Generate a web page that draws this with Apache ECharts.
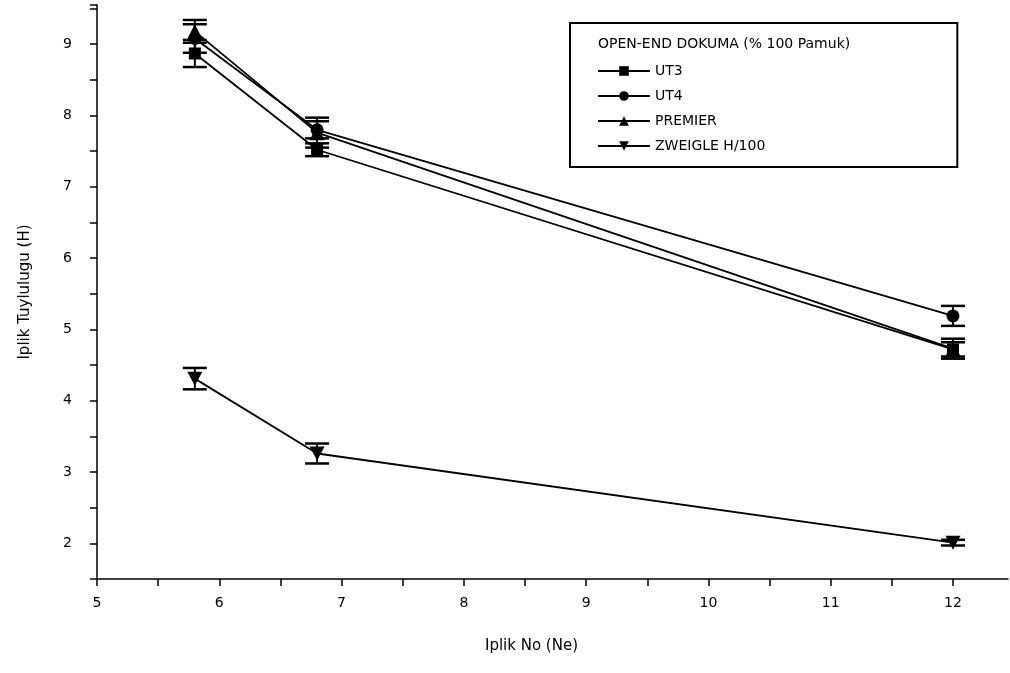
<!DOCTYPE html>
<html>
<head>
<meta charset="utf-8">
<script src="https://cdn.jsdelivr.net/npm/echarts@6/dist/echarts.min.js"></script>
<style>
  html, body { margin: 0; padding: 0; background: #fff; }
  #chart { width: 1010px; height: 673px; }
</style>
</head>
<body>
<div id="chart"></div>
<script>
const xValues = [5.8, 6.8, 12]
const ut3 = [8.87, 7.52, 4.72]
const ut3Err = [0.19, 0.09, 0.1]
const ut4 = [9.08, 7.8, 5.19]
const ut4Err = [0.2, 0.12, 0.14]
const premier = [9.18, 7.76, 4.73]
const premierErr = [0.16, 0.21, 0.14]
const zweigle = [4.31, 3.26, 2.01]
const zweigleErr = [0.15, 0.14, 0.04]

const downTriangle = 'path://M0,0 L10,0 L5,9 Z'
const font = 'DejaVu Sans, Arial, sans-serif'

const toPoints = (ys) => xValues.map((x, i) => [x, ys[i]])
const toBars = (ys, errs) => xValues.map((x, i) => [x, ys[i] - errs[i], ys[i] + errs[i]])

const lineSeries = (name, ys, symbol, size) => ({
  name: name,
  type: 'line',
  data: toPoints(ys),
  symbol: symbol,
  symbolSize: size,
  lineStyle: { color: '#000', width: 1.8 },
  itemStyle: { color: '#000' },
  z: 3,
  animation: false,
})

const errorSeries = (name, ys, errs) => ({
  name: name + '_err',
  type: 'custom',
  data: toBars(ys, errs),
  encode: { x: 0, y: [1, 2] },
  renderItem(params, api) {
    const x = api.value(0)
    const top = api.coord([x, api.value(2)])
    const bot = api.coord([x, api.value(1)])
    const w = 12
    const st = { stroke: '#000', lineWidth: 2.5 }
    return {
      type: 'group',
      children: [
        { type: 'line', shape: { x1: top[0], y1: top[1], x2: bot[0], y2: bot[1] }, style: { stroke: '#000', lineWidth: 2 } },
        { type: 'line', shape: { x1: top[0] - w, y1: top[1], x2: top[0] + w, y2: top[1] }, style: st },
        { type: 'line', shape: { x1: bot[0] - w, y1: bot[1], x2: bot[0] + w, y2: bot[1] }, style: st },
      ],
    }
  },
  z: 2,
  animation: false,
})

const chart = echarts.init(document.getElementById('chart'))
chart.setOption({
  backgroundColor: '#fff',
  animation: false,
  title: {
    text: 'OPEN-END DOKUMA (% 100 Pamuk)',
    left: 598,
    top: 37,
    padding: 0,
    textStyle: { fontFamily: font, fontSize: 14, fontWeight: 'normal', color: '#000' },
  },
  legend: {
    orient: 'vertical',
    left: 570,
    top: 23,
    padding: [41, 192, 14, 27],
    borderColor: '#000',
    borderWidth: 2,
    itemGap: 11,
    itemWidth: 52,
    itemHeight: 12,
    textStyle: { fontFamily: font, fontSize: 14, color: '#000' },
    data: ['UT3', 'UT4', 'PREMIER', 'ZWEIGLE H/100'],
  },
  grid: {
    left: 97,
    right: 2,
    top: 5,
    bottom: 94,
    outerBoundsMode: 'none',
  },
  xAxis: {
    type: 'value',
    min: 5,
    max: 12.45,
    interval: 0.5,
    name: 'Iplik No (Ne)',
    nameLocation: 'middle',
    nameGap: 60,
    nameTextStyle: { fontFamily: font, fontSize: 15, color: '#000', padding: [0, 42, 0, 0] },
    splitLine: { show: false },
    axisLine: { onZero: false, lineStyle: { color: '#000', width: 1.5 } },
    axisTick: { length: 7, lineStyle: { color: '#000', width: 1.5 } },
    axisLabel: {
      color: '#000',
      fontFamily: font,
      fontSize: 14,
      margin: 17,
      showMaxLabel: false,
      formatter: (v) => (Number.isInteger(v) ? String(v) : ''),
    },
  },
  yAxis: {
    type: 'value',
    min: 1.5,
    max: 9.55,
    interval: 0.5,
    name: 'Iplik Tuylulugu (H)',
    nameLocation: 'middle',
    nameGap: 64,
    nameTextStyle: { fontFamily: font, fontSize: 15, color: '#000' },
    splitLine: { show: false },
    axisLine: { onZero: false, lineStyle: { color: '#000', width: 1.5 } },
    axisTick: { length: 7, lineStyle: { color: '#000', width: 1.5 } },
    axisLabel: {
      color: '#000',
      fontFamily: font,
      fontSize: 14,
      margin: 25,
      formatter: (v) => (Number.isInteger(v) ? String(v) : ''),
    },
  },
  series: [
    errorSeries('UT3', ut3, ut3Err),
    errorSeries('UT4', ut4, ut4Err),
    errorSeries('PREMIER', premier, premierErr),
    errorSeries('ZWEIGLE H/100', zweigle, zweigleErr),
    lineSeries('UT3', ut3, 'rect', 12),
    lineSeries('UT4', ut4, 'circle', 13),
    lineSeries('PREMIER', premier, 'triangle', 15),
    lineSeries('ZWEIGLE H/100', zweigle, downTriangle, [15, 14]),
  ],
})
</script>
</body>
</html>
